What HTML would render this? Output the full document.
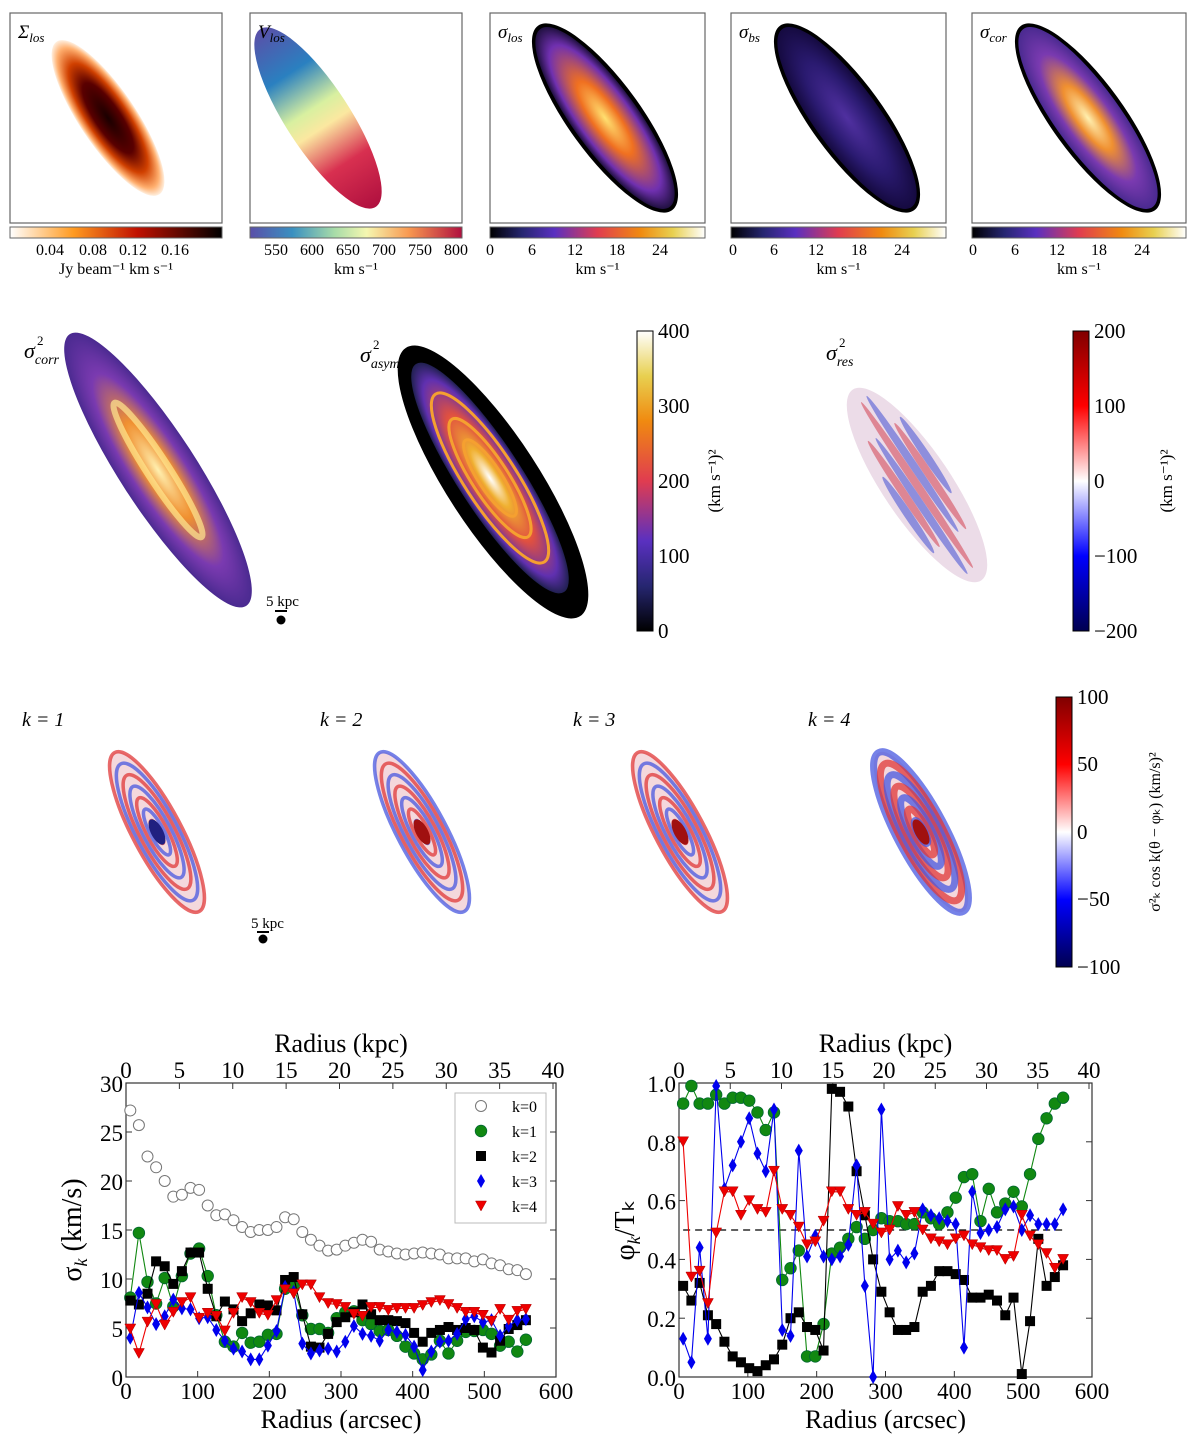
<!DOCTYPE html>
<html><head><meta charset="utf-8"><style>
html,body{margin:0;padding:0;background:#fff;width:1200px;height:1446px;overflow:hidden}
svg{display:block;font-family:"Liberation Serif",serif}
</style></head><body>
<svg id="fig" width="1200" height="1446" viewBox="0 0 1200 1446" xmlns="http://www.w3.org/2000/svg">
<defs>
<linearGradient id="gHeat" x1="0" x2="1"><stop offset="0" stop-color="#fff"/><stop offset="0.3" stop-color="#ff9a20"/><stop offset="0.6" stop-color="#c01000"/><stop offset="1" stop-color="#000"/></linearGradient>
<linearGradient id="gSpec" x1="0" x2="1"><stop offset="0" stop-color="#5a4fa8"/><stop offset="0.2" stop-color="#3a90c0"/><stop offset="0.4" stop-color="#a8dca8"/><stop offset="0.55" stop-color="#f5f7b0"/><stop offset="0.75" stop-color="#f89850"/><stop offset="1" stop-color="#b0103f"/></linearGradient>
<linearGradient id="gCmr" x1="0" x2="1"><stop offset="0" stop-color="#000"/><stop offset="0.15" stop-color="#262670"/><stop offset="0.3" stop-color="#5a30c0"/><stop offset="0.5" stop-color="#e03c50"/><stop offset="0.7" stop-color="#f08a10"/><stop offset="0.85" stop-color="#e8d050"/><stop offset="1" stop-color="#fff"/></linearGradient>
<linearGradient id="gCmrV" x1="0" x2="0" y1="1" y2="0"><stop offset="0" stop-color="#000"/><stop offset="0.15" stop-color="#262670"/><stop offset="0.3" stop-color="#5a30c0"/><stop offset="0.5" stop-color="#e03c50"/><stop offset="0.7" stop-color="#f08a10"/><stop offset="0.85" stop-color="#e8d050"/><stop offset="1" stop-color="#fff"/></linearGradient>
<linearGradient id="gSeis" x1="0" x2="0" y1="1" y2="0"><stop offset="0" stop-color="#000050"/><stop offset="0.25" stop-color="#0000ff"/><stop offset="0.5" stop-color="#fff"/><stop offset="0.75" stop-color="#ff0000"/><stop offset="1" stop-color="#800000"/></linearGradient>
<radialGradient id="rHeat"><stop offset="0" stop-color="#1a0000"/><stop offset="0.45" stop-color="#5a0000"/><stop offset="0.7" stop-color="#d04000"/><stop offset="0.9" stop-color="#ffb070"/><stop offset="1" stop-color="#fff0e0"/></radialGradient>
<linearGradient id="lVel" x1="0" x2="1"><stop offset="0" stop-color="#5a4fa8"/><stop offset="0.25" stop-color="#2a80c0"/><stop offset="0.45" stop-color="#d8f0a0"/><stop offset="0.55" stop-color="#fbe8a0"/><stop offset="0.75" stop-color="#d83050"/><stop offset="1" stop-color="#b0103f"/></linearGradient>
<radialGradient id="rLos"><stop offset="0" stop-color="#ffe070"/><stop offset="0.4" stop-color="#f07020"/><stop offset="0.8" stop-color="#7030b0"/><stop offset="1" stop-color="#201040"/></radialGradient>
<radialGradient id="rBs"><stop offset="0" stop-color="#5030a0"/><stop offset="0.6" stop-color="#2a1a70"/><stop offset="1" stop-color="#150a40"/></radialGradient>
<radialGradient id="rCorr"><stop offset="0" stop-color="#fff0b0"/><stop offset="0.35" stop-color="#f09030"/><stop offset="0.7" stop-color="#7a3ab0"/><stop offset="1" stop-color="#4a2a90"/></radialGradient>
<radialGradient id="rAsym"><stop offset="0" stop-color="#fff"/><stop offset="0.25" stop-color="#f0b030"/><stop offset="0.55" stop-color="#e05040"/><stop offset="0.85" stop-color="#6030b0"/><stop offset="1" stop-color="#202050"/></radialGradient>
</defs>
<g id="maps"></g>
<g id="charts"></g>
</svg>
<script>
// ---------- data: sigma_k panel ----------
const radii = [];
for (let i = 0; i < 47; i++) radii.push(6 + 12 * i);
const sigK0 = [27.2,25.7,22.5,21.4,20,18.4,18.6,19.3,19.1,17.5,16.5,16.6,16,15.3,14.8,15,15,15.3,16.3,16.1,14.8,14,13.4,12.9,13,13.4,13.7,14,13.8,13,12.8,12.6,12.5,12.6,12.7,12.6,12.5,12.1,12.1,12.1,11.8,12,11.6,11.4,11,10.9,10.5];
const sigK1 = [8.1,14.7,9.7,7.5,10.1,7.2,10.3,12.6,13.1,10.3,6.3,3.6,3.1,4.5,3.5,3.6,4.3,4.4,9,9.2,6.3,4.9,4.9,4.5,6,6.6,6.7,5.8,5.4,4.7,4.8,4.2,3.1,2.4,1.8,2.3,3.7,2.4,3.7,4.6,4.7,4.8,4.4,3.2,3.6,2.6,3.8];
const sigK2 = [7.8,7.4,8.5,11.8,11.3,9.5,10.8,12.7,12.7,9,6.2,7.7,6.9,5.7,6.5,7.4,7.3,6.8,9.9,10.2,6.4,3.1,3,4.4,5.6,6.1,6.6,7.4,6.4,5.8,5.8,5.7,5.5,4.5,3.6,4.5,4.8,5.1,4.8,5,4.8,3,2.5,3.7,4.9,5.3,5.8];
const sigK3 = [4,8.6,7.1,5.4,6.2,7.9,7,6.9,6,6.1,4.8,3.7,2.9,2.6,1.8,1.8,3.2,4.7,9.2,8.7,3.4,2.4,2.7,2.9,2.6,3.6,5.2,4.4,4.2,3.7,4.8,4.6,4.3,3.1,0.7,2.6,3.6,3.7,4.4,5.9,6.2,5.6,5.8,4.2,5.2,5.8,5.9];
const sigK4 = [4.9,2.4,5.6,7.4,5.3,6.6,7.6,8.1,6,6.5,6.2,4.7,6.5,8.1,7.6,6.5,6.3,7.8,8.9,8.5,9.4,9.4,8.1,7.5,7.4,7.1,6.4,6.2,7.1,7.1,6.8,7,7,7,7.3,7.6,7.8,7.4,7,6.6,6.6,6.3,5.7,6.9,5.8,6.7,6.9];
// ---------- data: phase panel ----------
const phiK1 = [0.93,0.99,0.93,0.93,0.96,0.93,0.95,0.95,0.94,0.9,0.84,0.9,0.33,0.37,0.43,0.07,0.07,0.18,0.42,0.44,0.47,0.51,0.47,0.5,0.54,0.53,0.53,0.52,0.52,0.56,0.54,0.52,0.56,0.61,0.68,0.69,0.53,0.64,0.56,0.59,0.63,0.58,0.69,0.81,0.88,0.93,0.95];
const phiK2 = [0.31,0.26,0.32,0.21,0.18,0.12,0.07,0.05,0.03,0.02,0.04,0.06,0.11,0.2,0.22,0.17,0.16,0.09,0.98,0.97,0.92,0.7,0.55,0.4,0.29,0.22,0.16,0.16,0.17,0.29,0.31,0.36,0.36,0.35,0.33,0.27,0.27,0.28,0.26,0.21,0.27,0.01,0.19,0.47,0.31,0.34,0.38];
const phiK3 = [0.13,0.05,0.44,0.13,0.99,0.64,0.72,0.8,0.88,0.76,0.7,0.91,0.16,0.14,0.77,0.41,0.48,0.41,0.4,0.41,0.45,0.72,0.31,0.0,0.91,0.4,0.43,0.39,0.42,0.57,0.55,0.54,0.53,0.52,0.1,0.63,0.49,0.5,0.51,0.57,0.58,0.5,0.55,0.52,0.52,0.52,0.57];
const phiK4 = [0.8,0.34,0.36,0.25,0.49,0.63,0.63,0.55,0.6,0.57,0.56,0.7,0.57,0.55,0.51,0.45,0.46,0.53,0.63,0.63,0.57,0.55,0.56,0.52,0.49,0.5,0.58,0.55,0.56,0.5,0.47,0.46,0.45,0.47,0.48,0.45,0.44,0.43,0.43,0.4,0.41,0.55,0.48,0.45,0.42,0.37,0.4];
const xTicks = [0,100,200,300,400,500,600];
const kpcTicks = [0,5,10,15,20,25,30,35,40];
const sigTicks = [0,5,10,15,20,25,30];
const phiTicks = [0,0.2,0.4,0.6,0.8,1.0];
const legendLabels = ['k=0','k=1','k=2','k=3','k=4'];

const NS = 'http://www.w3.org/2000/svg';
function mk(tag, attrs, parent, text) {
  const e = document.createElementNS(NS, tag);
  for (const k in attrs) e.setAttribute(k, attrs[k]);
  if (text !== undefined) e.textContent = text;
  parent.appendChild(e);
  return e;
}
const mapsG = document.getElementById('maps');
const chartsG = document.getElementById('charts');

// ---------- top row panels ----------
const topPanels = [
  {x:10, w:212, title:'Σ', sub:'los', grad:'gHeat', fill:'url(#rHeat)', cx:108, ang:56, rx:92, ry:28, ticks:[['0.04',50],['0.08',93],['0.12',133],['0.16',175]], unit:'Jy beam⁻¹ km s⁻¹', name:'sigma-los-surface-panel'},
  {x:250, w:212, title:'V', sub:'los', grad:'gSpec', fill:'url(#lVel)', cx:318, ang:57, rx:106, ry:32, ticks:[['550',276],['600',312],['650',348],['700',384],['750',420],['800',456]], unit:'km s⁻¹', name:'velocity-los-panel'},
  {x:490, w:215, title:'σ', sub:'los', grad:'gCmr', fill:'url(#rLos)', cx:605, ang:54, rx:110, ry:32, ticks:[['0',490],['6',532],['12',575],['18',617],['24',660]], unit:'km s⁻¹', name:'sigma-los-panel'},
  {x:731, w:215, title:'σ', sub:'bs', grad:'gCmr', fill:'url(#rBs)', cx:847, ang:54, rx:110, ry:32, ticks:[['0',733],['6',774],['12',816],['18',859],['24',902]], unit:'km s⁻¹', name:'sigma-bs-panel'},
  {x:972, w:214, title:'σ', sub:'cor', grad:'gCmr', fill:'url(#rCorr)', cx:1088, ang:54, rx:110, ry:32, ticks:[['0',973],['6',1015],['12',1057],['18',1099],['24',1142]], unit:'km s⁻¹', name:'sigma-cor-panel'}
];
topPanels.forEach(p => {
  const g = mk('g', {}, mapsG);
  
  
  mk('rect', {x:p.x, y:13, width:p.w, height:210, fill:'#fff', stroke:'#666', 'stroke-width':1.2}, g);
  const dark = p.grad === 'gCmr';
  if (dark) mk('ellipse', {cx:p.cx, cy:118, rx:p.rx+4, ry:p.ry+4, fill:'#000', transform:'rotate(' + p.ang + ' ' + p.cx + ' 118)'}, g);
  const gal = mk('ellipse', {cx:p.cx, cy:118, rx:p.rx, ry:p.ry, fill:p.fill, transform:'rotate(' + p.ang + ' ' + p.cx + ' 118)'}, g);
  
  
  const t = mk('text', {x:p.x+8, y:38, 'font-size':19, 'font-style':'italic'}, g, p.title);
  mk('tspan', {'font-size':13, dy:4}, t, p.sub);
  const cb = mk('rect', {x:p.x, y:227, width:p.w, height:11, fill:'url(#' + p.grad + ')', stroke:'#666', 'stroke-width':1}, g);
  
  
  p.ticks.forEach(tk => mk('text', {x:tk[1], y:255, 'font-size':16, 'text-anchor':'middle'}, g, tk[0]));
  mk('text', {x:p.x+p.w/2, y:274, 'font-size':16, 'text-anchor':'middle'}, g, p.unit);
});

// ---------- middle row ----------
(function(){
  const g = mk('g', {}, mapsG);
  
  
  mk('ellipse', {cx:158, cy:470, rx:162, ry:38, fill:'url(#rCorr)', transform:'rotate(57 158 470)'}, g);
  mk('ellipse', {cx:158, cy:470, rx:80, ry:11, fill:'none', stroke:'#ffe890', 'stroke-width':6, opacity:0.7, transform:'rotate(57 158 470)'}, g);
  const t = mk('text', {x:24, y:358, 'font-size':22, 'font-style':'italic'}, g, 'σ');
  mk('tspan', {'font-size':14, dy:6}, t, 'corr');
  mk('text', {x:37, y:345, 'font-size':13}, g, '2');
  mk('text', {x:266, y:606, 'font-size':15}, g, '5 kpc');
  mk('line', {x1:275, y1:611, x2:287, y2:611, stroke:'#000', 'stroke-width':2}, g);
  mk('circle', {cx:281, cy:620, r:4.5, fill:'#000'}, g);

  const g2 = mk('g', {}, mapsG);
  
  
  mk('ellipse', {cx:493, cy:482, rx:160, ry:46, fill:'#000', transform:'rotate(57 493 482)'}, g2);
  mk('ellipse', {cx:490, cy:478, rx:136, ry:32, fill:'url(#rAsym)', transform:'rotate(57 490 478)'}, g2);
  [100,70,45].forEach(r => mk('ellipse', {cx:490, cy:478, rx:r, ry:r*0.26, fill:'none', stroke:'#f5a030', 'stroke-width':3, transform:'rotate(57 490 478)'}, g2));
  const t2 = mk('text', {x:360, y:362, 'font-size':22, 'font-style':'italic'}, g2, 'σ');
  mk('tspan', {'font-size':14, dy:6}, t2, 'asym');
  mk('text', {x:373, y:349, 'font-size':13}, g2, '2');

  const cb1 = mk('g', {}, mapsG);
  
  
  mk('rect', {x:637, y:331, width:16, height:300, fill:'url(#gCmrV)', stroke:'#000', 'stroke-width':1}, cb1);
  [[0,631],[100,556],[200,481],[300,406],[400,331]].forEach(v => {
    mk('text', {x:658, y:v[1]+7, 'font-size':21}, cb1, String(v[0]));
  });
  mk('text', {x:0, y:0, 'font-size':17, transform:'translate(720 481) rotate(-90)', 'text-anchor':'middle'}, cb1, '(km s⁻¹)²');

  const g3 = mk('g', {}, mapsG);
  
  
  const tf3 = 'rotate(56 917 485)';
  mk('ellipse', {cx:917, cy:485, rx:115, ry:34, fill:'#ecdce8', transform:tf3}, g3);
  for (let i = -3; i <= 3; i++) {
    mk('ellipse', {cx:917 + (i%2)*20, cy:485 + i*8, rx:100 - Math.abs(i)*18, ry:4, fill:(i%2===0)?'#d03040':'#3040d0', opacity:0.5, transform:tf3}, g3);
  }
  const t3 = mk('text', {x:826, y:360, 'font-size':22, 'font-style':'italic'}, g3, 'σ');
  mk('tspan', {'font-size':14, dy:6}, t3, 'res');
  mk('text', {x:839, y:347, 'font-size':13}, g3, '2');

  const cb2 = mk('g', {}, mapsG);
  
  
  mk('rect', {x:1073, y:331, width:16, height:300, fill:'url(#gSeis)', stroke:'#000', 'stroke-width':1}, cb2);
  [['200',331],['100',406],['0',481],['−100',556],['−200',631]].forEach(v => mk('text', {x:1094, y:v[1]+7, 'font-size':21}, cb2, v[0]));
  mk('text', {x:0, y:0, 'font-size':17, transform:'translate(1172 481) rotate(-90)', 'text-anchor':'middle'}, cb2, '(km s⁻¹)²');
})();

// ---------- k maps ----------
const kMaps = [
  {cx:157, lab:'k = 1', lx:22},
  {cx:422, lab:'k = 2', lx:320},
  {cx:680, lab:'k = 3', lx:573},
  {cx:921, lab:'k = 4', lx:808}
];
kMaps.forEach((m, idx) => {
  const g = mk('g', {}, mapsG);
  
  
  const tf = 'rotate(62 ' + m.cx + ' 832)';
  mk('ellipse', {cx:m.cx, cy:832, rx:90, ry:24, fill:'#f4d8dc', transform:tf}, g);
  const n = 7;
  for (let j = n; j >= 1; j--) {
    const r = 90 * j / n;
    const col = ((j + idx) % 2) ? '#e03838' : '#4858e0';
    mk('ellipse', {cx:m.cx, cy:832, rx:r, ry:r*0.27, fill:'none', stroke:col, 'stroke-width':idx===3?7:3.5, opacity:0.75, transform:tf}, g);
  }
  mk('ellipse', {cx:m.cx, cy:832, rx:14, ry:6, fill:idx===0?'#202080':'#a01010', transform:tf}, g);
  mk('text', {x:m.lx, y:726, 'font-size':20, 'font-style':'italic'}, g, m.lab);
});
(function(){
  const g = mk('g', {}, mapsG);
  
  
  mk('text', {x:251, y:928, 'font-size':15}, g, '5 kpc');
  mk('line', {x1:257, y1:932, x2:269, y2:932, stroke:'#000', 'stroke-width':2}, g);
  mk('circle', {cx:263, cy:939, r:4.5, fill:'#000'}, g);
  const cb = mk('g', {}, mapsG);
  
  
  mk('rect', {x:1056, y:697, width:16, height:270, fill:'url(#gSeis)', stroke:'#000', 'stroke-width':1}, cb);
  [['100',697],['50',764],['0',832],['−50',899],['−100',967]].forEach(v => mk('text', {x:1077, y:v[1]+7, 'font-size':21}, cb, v[0]));
  mk('text', {x:0, y:0, 'font-size':16, transform:'translate(1160 832) rotate(-90)', 'text-anchor':'middle'}, cb, 'σ²ₖ cos k(θ − φₖ) (km/s)²');
})();

// ---------- line charts ----------
function marker(g, type, x, y) {
  let e;
  if (type === 'open') e = mk('circle', {cx:x, cy:y, r:5.5, fill:'#fff', stroke:'#777', 'stroke-width':1}, g);
  else if (type === 'circle') e = mk('circle', {cx:x, cy:y, r:5.8, fill:'#118811', stroke:'#063', 'stroke-width':0.8}, g);
  else if (type === 'square') e = mk('rect', {x:x-5, y:y-5, width:10, height:10, fill:'#000'}, g);
  else if (type === 'diamond') e = mk('polygon', {points:x + ',' + (y-7) + ' ' + (x+4) + ',' + y + ' ' + x + ',' + (y+7) + ' ' + (x-4) + ',' + y, fill:'#0000ee'}, g);
  else e = mk('polygon', {points:(x-5.5) + ',' + (y-5) + ' ' + (x+5.5) + ',' + (y-5) + ' ' + x + ',' + (y+5), fill:'#ee0000', stroke:'#a00', 'stroke-width':0.5}, g);
  return e;
}
function chart(opt) {
  const g = mk('g', {}, chartsG);
  
  
  const L = opt.left, R = opt.left + opt.width, T = 1083, B = 1377;
  const sx = v => L + v / 600 * opt.width;
  const sy = v => B - (v - opt.ymin) / (opt.ymax - opt.ymin) * (B - T);
  const sk = v => L + v / 40 * (opt.width - 3);
  mk('rect', {x:L, y:T, width:opt.width, height:B-T, fill:'#fff', stroke:'#333', 'stroke-width':1.2}, g);
  xTicks.forEach(v => {
    mk('line', {x1:sx(v), y1:B, x2:sx(v), y2:B-6, stroke:'#333'}, g);
    const t = mk('text', {x:sx(v), y:B+22, 'font-size':23, 'text-anchor':'middle'}, g, String(v));
    
    
  });
  kpcTicks.forEach(v => {
    mk('line', {x1:sk(v), y1:T, x2:sk(v), y2:T+6, stroke:'#333'}, g);
    mk('text', {x:sk(v), y:T-5, 'font-size':23, 'text-anchor':'middle'}, g, String(v));
  });
  opt.yticks.forEach(v => {
    mk('line', {x1:L, y1:sy(v), x2:L+6, y2:sy(v), stroke:'#333'}, g);
    mk('line', {x1:R, y1:sy(v), x2:R-6, y2:sy(v), stroke:'#333'}, g);
    const t = mk('text', {x:L-3, y:sy(v)+9, 'font-size':23, 'text-anchor':'end'}, g, opt.fmt(v));
    
    
  });
  const xl = mk('text', {x:L+opt.width/2, y:1428, 'font-size':26, 'text-anchor':'middle'}, g, 'Radius (arcsec)');
  
  
  const tl = mk('text', {x:L+opt.width/2, y:1052, 'font-size':26, 'text-anchor':'middle'}, g, 'Radius (kpc)');
  
  
  const yl = mk('text', {x:0, y:0, 'font-size':28, transform:'translate(' + (L-45) + ' ' + ((T+B)/2) + ') rotate(-90)', 'text-anchor':'middle'}, g);
  
  
  mk('tspan', {}, yl, opt.ylab[0]);
  mk('tspan', {'font-size':18, 'font-style':'italic', dy:6}, yl, opt.ylab[1]);
  mk('tspan', {dy:-6}, yl, opt.ylab[2]);
  if (opt.dashed !== undefined) {
    const d = mk('line', {x1:sx(radii[0]), y1:sy(opt.dashed), x2:sx(radii[radii.length-1]), y2:sy(opt.dashed), stroke:'#000', 'stroke-dasharray':'7,5', 'stroke-width':1.2}, g);
    
    
  }
  opt.series.forEach(s => {
    const sg = mk('g', {}, g);
    
    
    if (s.line) {
      const pts = s.data.map((v, i) => sx(radii[i]).toFixed(1) + ',' + sy(v).toFixed(1)).join(' ');
      const pl = mk('polyline', {points:pts, fill:'none', stroke:s.line, 'stroke-width':1.1}, sg);
      
      
    }
    s.data.forEach((v, i) => {
      const m = marker(sg, s.marker, sx(radii[i]), sy(v));
      
      
    });
  });
  if (opt.legend) {
    const lg = mk('g', {}, g);
    
    
    mk('rect', {x:455, y:1093, width:91, height:130, fill:'#fff', stroke:'#bbb', 'stroke-width':1}, lg);
    const types = ['open','circle','square','diamond','triangle'];
    legendLabels.forEach((lab, i) => {
      const y = 1106 + i * 25;
      const ent = mk('g', {}, lg);
      
      
      marker(ent, types[i], 481, y);
      mk('text', {x:512, y:y+6, 'font-size':16}, ent, lab);
    });
  }
}
chart({name:'sigma-k-chart', left:126, width:430, ymin:0, ymax:30, yticks:sigTicks, fmt:v=>String(v), ylab:['σ','k',' (km/s)'], legend:true,
  series:[
    {name:'k0-series', data:sigK0, marker:'open', line:null},
    {name:'k1-series', data:sigK1, marker:'circle', line:'#118811'},
    {name:'k2-series', data:sigK2, marker:'square', line:'#000'},
    {name:'k3-series', data:sigK3, marker:'diamond', line:'#0000ee'},
    {name:'k4-series', data:sigK4, marker:'triangle', line:'#ee0000'}
  ]});
chart({name:'phase-chart', left:679, width:413, ymin:0, ymax:1, yticks:phiTicks, fmt:v=>v.toFixed(1), ylab:['φ','k','/Tₖ'], dashed:0.5,
  series:[
    {name:'k1-phase-series', data:phiK1, marker:'circle', line:'#118811'},
    {name:'k2-phase-series', data:phiK2, marker:'square', line:'#000'},
    {name:'k3-phase-series', data:phiK3, marker:'diamond', line:'#0000ee'},
    {name:'k4-phase-series', data:phiK4, marker:'triangle', line:'#ee0000'}
  ]});
</script>
</body></html>
